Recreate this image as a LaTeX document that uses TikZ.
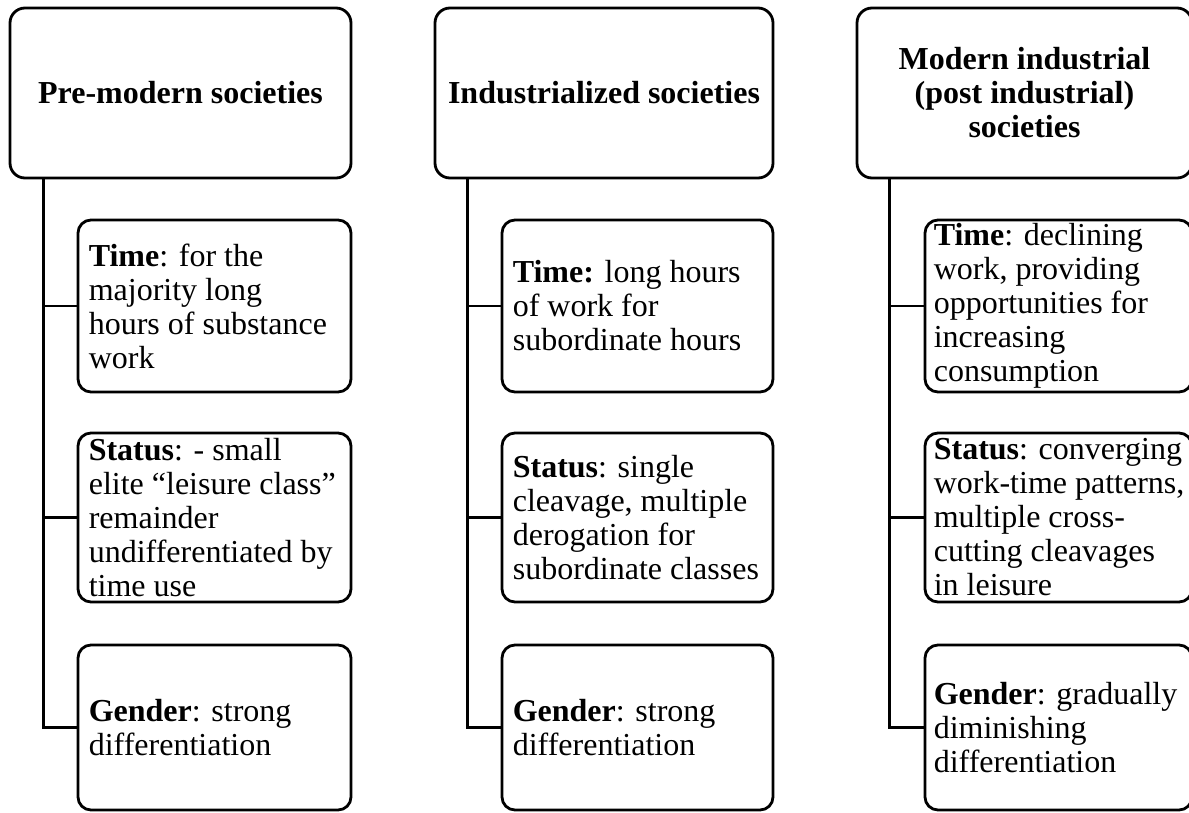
\documentclass[tikz,border=0pt]{standalone}
\usepackage{fontspec}
\setmainfont{Liberation Serif}
\begin{document}
\begin{tikzpicture}[x=1pt,y=-1pt,
  hdr/.style={draw=black, line width=2.8pt, rounded corners=15pt, minimum height=170pt, inner sep=0pt, align=center, font=\fontsize{32}{34}\selectfont\bfseries},
  child/.style={draw=black, line width=2.8pt, rounded corners=13pt, inner sep=0pt},
  ctext/.style={anchor=west, align=left, inner sep=0pt, font=\fontsize{32}{34}\selectfont},
  conn/.style={draw=black, line width=2.8pt}]
\fill[white] (0,0) rectangle (1189,812);
\useasboundingbox (0,0) rectangle (1189,812);
\clip (0,0) rectangle (1189,812);

% Column 1
\node[hdr, minimum width=341pt] (h1) at (180.5,93) {Pre-modern societies};
\node[child, minimum width=273pt, minimum height=172pt] (t1) at (214.5,306) {};
\node[ctext] (t1x) at ([xshift=12pt]t1.west) {\textbf{Time}: for the\\majority long\\hours of substance\\work};
\node[child, minimum width=273pt, minimum height=169pt] (s1) at (214.5,517.5) {};
\node[ctext] (s1x) at ([xshift=12pt]s1.west) {\textbf{Status}: - small\\elite “leisure class”\\remainder\\undifferentiated by\\time use};
\node[child, minimum width=273pt, minimum height=165pt] (g1) at (214.5,727.5) {};
\node[ctext] (g1x) at ([xshift=12pt]g1.west) {\textbf{Gender}: strong\\differentiation};
\path (h1.south west) ++(35pt,0) coordinate (k1);
\draw[conn] (k1) |- (g1.west);
\draw[conn] (k1 |- t1.west) -- (t1.west);
\draw[conn] (k1 |- s1.west) -- (s1.west);

% Column 2
\node[hdr, minimum width=338pt] (h2) at (604,93) {Industrialized societies};
\node[child, minimum width=271pt, minimum height=172pt] (t2) at (637.5,306) {};
\node[ctext] (t2x) at ([xshift=12pt]t2.west) {\textbf{Time:} long hours\\of work for\\subordinate hours};
\node[child, minimum width=271pt, minimum height=169pt] (s2) at (637.5,517.5) {};
\node[ctext] (s2x) at ([xshift=12pt]s2.west) {\textbf{Status}: single\\cleavage, multiple\\derogation for\\subordinate classes};
\node[child, minimum width=271pt, minimum height=165pt] (g2) at (637.5,727.5) {};
\node[ctext] (g2x) at ([xshift=12pt]g2.west) {\textbf{Gender}: strong\\differentiation};
\path (h2.south west) ++(34pt,0) coordinate (k2);
\draw[conn] (k2) |- (g2.west);
\draw[conn] (k2 |- t2.west) -- (t2.west);
\draw[conn] (k2 |- s2.west) -- (s2.west);

% Column 3
\node[hdr, minimum width=335pt] (h3) at (1024.5,93) {Modern industrial\\(post industrial)\\societies};
\node[child, minimum width=267pt, minimum height=172pt] (t3) at (1058.5,306) {};
\node[ctext] (t3x) at ([xshift=10pt]t3.west) {\textbf{Time}: declining\\work, providing\\opportunities for\\increasing\\consumption};
\node[child, minimum width=267pt, minimum height=169pt] (s3) at (1058.5,517.5) {};
\node[ctext] (s3x) at ([xshift=10pt]s3.west) {\textbf{Status}: converging\\work-time patterns,\\multiple cross-\\cutting cleavages\\in leisure};
\node[child, minimum width=267pt, minimum height=165pt] (g3) at (1058.5,727.5) {};
\node[ctext] (g3x) at ([xshift=10pt]g3.west) {\textbf{Gender}: gradually\\diminishing\\differentiation};
\path (h3.south west) ++(34pt,0) coordinate (k3);
\draw[conn] (k3) |- (g3.west);
\draw[conn] (k3 |- t3.west) -- (t3.west);
\draw[conn] (k3 |- s3.west) -- (s3.west);
\end{tikzpicture}
\end{document}
